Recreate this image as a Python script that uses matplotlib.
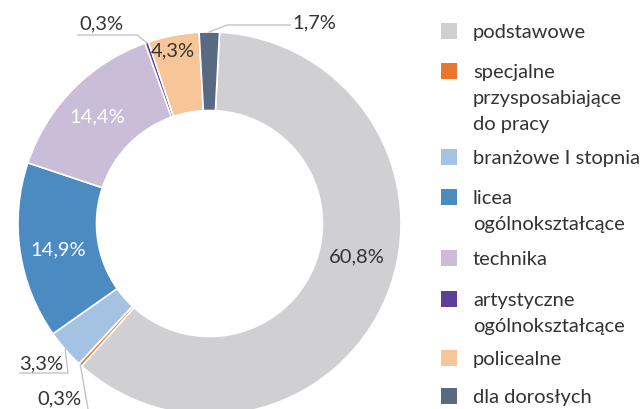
import numpy as np
import matplotlib
matplotlib.use("Agg")
from matplotlib import pyplot as plt
from matplotlib.patches import Rectangle

plt.rcParams['font.family'] = ['Lato', 'DejaVu Sans']

# Dane: udział uczniów wg typu szkoły (%)
categories = ['podstawowe', 'specjalne\nprzysposabiające\ndo pracy', 'branżowe I stopnia',
              'licea\nogólnokształcące', 'technika', 'artystyczne\nogólnokształcące',
              'policealne', 'dla dorosłych']
shares = [60.8, 0.3, 3.3, 14.9, 14.4, 0.3, 4.3, 1.7]
labels = ['60,8%', '0,3%', '3,3%', '14,9%', '14,4%', '0,3%', '4,3%', '1,7%']
colors = ['#D0D0D2', '#E8762C', '#A4C2E2', '#4B8BC2', '#C9BDD7', '#5B3F9B', '#F7C597', '#586981']

W, H = 641, 409
fig = plt.figure(figsize=(W / 100, H / 100), dpi=100)
ax = fig.add_axes([0, 0, 1, 1])

def P(x, y):
    # piksele (od góry) -> współrzędne osi
    return x, H - y

cx, cy = P(209.5, 223.5)
R = 191.5
start = 87
wedges, _ = ax.pie(shares, colors=colors, startangle=start, counterclock=False,
                   center=(cx, cy), radius=R,
                   wedgeprops=dict(width=R * 0.41, edgecolor='white', linewidth=1.2))
ax.set_xlim(0, W)
ax.set_ylim(0, H)
ax.set_aspect('auto')
ax.axis('off')

def mid_angle(i):
    before = sum(shares[:i])
    return np.deg2rad(start - 3.6 * (before + shares[i] / 2))

def on_ring(i, r):
    a = mid_angle(i)
    return cx + r * np.cos(a), cy + r * np.sin(a)

txt = '#333333'
fs = 14.5

# etykiety wewnątrz pierścienia
inside = {0: (P(357, 257), txt), 3: (P(58, 250), 'white'),
          4: (P(97, 117), 'white'), 6: (P(173, 51), txt)}
for i, (pos, col) in inside.items():
    ax.text(pos[0], pos[1], labels[i], color=col, fontsize=fs, ha='center', va='center')

# etykiety zewnętrzne z liniami odniesienia
line_col = '#C4C4C4'
outside = {
    7: ([P(227, 25), P(290, 25)], P(292, 23), 'left'),
    5: ([P(137, 35), P(78, 35)], P(101, 24), 'center'),
    2: ([P(68, 373), P(20, 373)], P(41, 364), 'center'),
    1: ([P(88, 409)], P(59, 399), 'center'),
}
for i, (pts, tpos, ha) in outside.items():
    x0, y0 = on_ring(i, R)
    xs = [x0] + [p[0] for p in pts]
    ys = [y0] + [p[1] for p in pts]
    ax.plot(xs, ys, color=line_col, lw=1, clip_on=False)
    ax.text(tpos[0], tpos[1], labels[i], color=txt, fontsize=fs, ha=ha, va='center')

# legenda
leg_y = [31, 71, 157, 197, 258, 299, 358, 396]
for name, col, y in zip(categories, colors, leg_y):
    x0, yb = P(441, y + 8)
    ax.add_patch(Rectangle((x0, yb), 16, 16, facecolor=col, edgecolor='none'))
    for k, line in enumerate(name.split('\n')):
        bx, by = P(473, y + 7 + 26 * k)
        ax.text(bx, by, line, color=txt, fontsize=fs, ha='left', va='baseline')

fig.savefig('out.png', dpi=100)
